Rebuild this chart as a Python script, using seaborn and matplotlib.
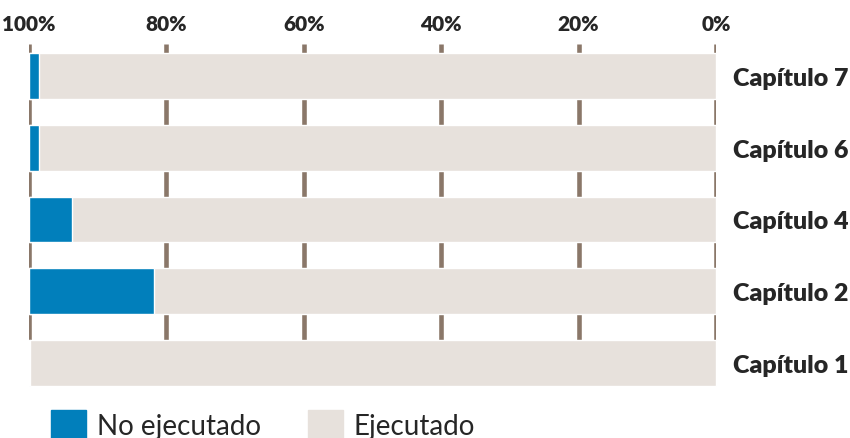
import matplotlib.pyplot as plt
import matplotlib.patches as mpatches
import seaborn as sns
import pandas as pd

capitulos = ["Capítulo 7", "Capítulo 6", "Capítulo 4", "Capítulo 2", "Capítulo 1"]
no_ejecutado = [1.4, 1.4, 6.2, 18.2, 0.1]
ejecutado = [100 - v for v in no_ejecutado]
ticks = [100, 80, 60, 40, 20, 0]
tick_labels = ["100%", "80%", "60%", "40%", "20%", "0%"]

azul = "#017fbb"
gris = "#e7e1dc"
linea = "#8a7769"

df = pd.DataFrame({"capitulo": capitulos, "no": no_ejecutado, "total": [n + e for n, e in zip(no_ejecutado, ejecutado)]})

sns.set_style("white")
plt.rcParams["font.family"] = ["Lato", "DejaVu Sans"]

W, H = 850, 439
fig = plt.figure(figsize=(8.5, 4.39), dpi=100)
# axes: x from 29px (100%) to 716px (0%), y cats 0..4 centred 77..364 px
step = (364 - 77) / 4
top = 77 - 0.5 * step
bot = 364 + 0.5 * step
ax = fig.add_axes([29 / W, 1 - bot / H, (716 - 29) / W, (bot - top) / H])

# x axis measured as "no ejecutado" from the left edge (100%)
sns.barplot(data=df, y="capitulo", x="total", color=gris, width=0.64, ax=ax,
            orient="h", saturation=1, zorder=2)
sns.barplot(data=df, y="capitulo", x="no", color=azul, width=0.64, ax=ax,
            orient="h", saturation=1, zorder=3)
for p in ax.patches:
    p.set_clip_on(False)

ax.set_xlim(0, 100)
ax.set_ylim(4.5, -0.5)
gy0 = -0.5 + (45 - top) / step
gy1 = -0.5 + (375 - top) / step
ax.vlines([100 - t for t in ticks], gy0, gy1, color=linea, lw=3.3, zorder=1)

ax.set_xticks([100 - t for t in ticks])
ax.set_xticklabels(tick_labels, fontsize=15, fontweight="heavy")
ax.xaxis.tick_top()
ax.tick_params(axis="x", length=0, pad=5)
ax.yaxis.tick_right()
ax.tick_params(axis="y", length=0, pad=12, labelsize=18)
for lab in ax.get_yticklabels():
    lab.set_fontweight("heavy")
ax.set_xlabel("")
ax.set_ylabel("")
sns.despine(ax=ax, left=True, bottom=True, top=True, right=True)

handles = [mpatches.Patch(color=azul, label="No ejecutado"),
           mpatches.Patch(color=gris, label="Ejecutado")]
fig.legend(handles=handles, loc="center left", bbox_to_anchor=(51 / W, 1 - 426 / H),
           ncol=2, frameon=False, fontsize=20, handlelength=1.25, handleheight=1.25,
           handletextpad=0.4, columnspacing=1.7, borderpad=0, borderaxespad=0)

fig.savefig("out.png", dpi=100)
